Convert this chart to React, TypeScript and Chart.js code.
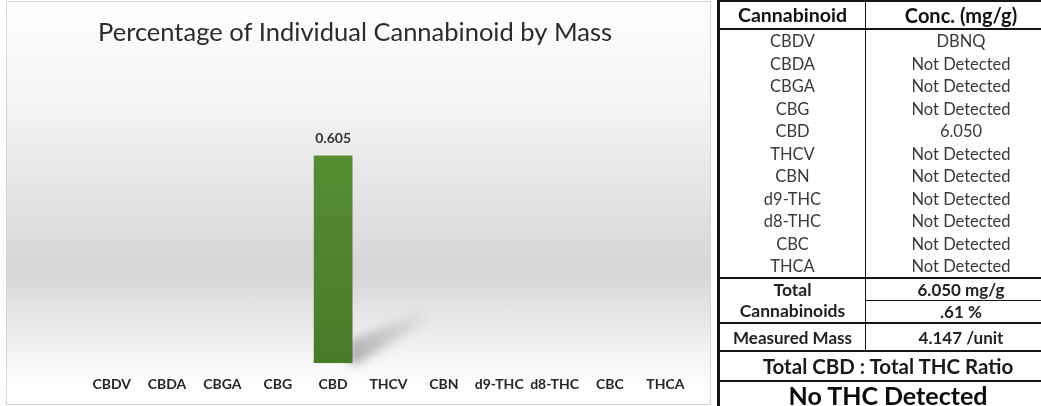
import { useEffect, useRef } from "react";
import { Chart, registerables, type ChartConfiguration, type Plugin } from "chart.js";

Chart.register(...registerables);

const FONT = "Lato, 'Open Sans', sans-serif";

const categories = ["CBDV", "CBDA", "CBGA", "CBG", "CBD", "THCV", "CBN", "d9-THC", "d8-THC", "CBC", "THCA"];
const percentByMass = [0, 0, 0, 0, 0.605, 0, 0, 0, 0, 0, 0];
const concentrations = [
  "DBNQ",
  "Not Detected",
  "Not Detected",
  "Not Detected",
  "6.050",
  "Not Detected",
  "Not Detected",
  "Not Detected",
  "Not Detected",
  "Not Detected",
  "Not Detected",
];
const totalMgPerG = "6.050 mg/g";
const totalPercent = ".61 %";
const measuredMass = "4.147 /unit";
const ratioText = "No THC Detected";

// soft diagonal shadow behind each non-zero bar
const barShadow: Plugin<"bar"> = {
  id: "barShadow",
  beforeDatasetsDraw(chart) {
    const ctx = chart.ctx;
    const meta = chart.getDatasetMeta(0);
    meta.data.forEach((el, i) => {
      const v = percentByMass[i];
      if (!v) return;
      const { x, base, width } = el.getProps(["x", "base", "width"], true) as any;
      const r = x + width / 2;
      ctx.save();
      ctx.filter = "blur(5px)";
      const g = ctx.createLinearGradient(r, base, r + 70, base - 48);
      g.addColorStop(0, "rgba(100,100,100,0.5)");
      g.addColorStop(1, "rgba(140,140,140,0.1)");
      ctx.fillStyle = g;
      ctx.beginPath();
      ctx.moveTo(r - 4, base);
      ctx.lineTo(r - 4, base - 22);
      ctx.lineTo(r + 66, base - 50);
      ctx.lineTo(r + 74, base - 42);
      ctx.lineTo(r + 6, base);
      ctx.closePath();
      ctx.fill();
      ctx.restore();
    });
  },
};

const valueLabels: Plugin<"bar"> = {
  id: "valueLabels",
  afterDatasetsDraw(chart) {
    const ctx = chart.ctx;
    const meta = chart.getDatasetMeta(0);
    ctx.save();
    ctx.font = `bold 14px ${FONT}`;
    ctx.fillStyle = "#333333";
    ctx.textAlign = "center";
    ctx.textBaseline = "middle";
    meta.data.forEach((el, i) => {
      const v = percentByMass[i];
      if (!v) return;
      const { x, y } = el.getProps(["x", "y"], true) as any;
      ctx.fillText(v.toFixed(3), x, y - 17);
    });
    ctx.restore();
  },
};

function CannabinoidChart() {
  const canvasRef = useRef<HTMLCanvasElement>(null);

  useEffect(() => {
    if (!canvasRef.current) return;
    const config: ChartConfiguration<"bar"> = {
      type: "bar",
      data: {
        labels: categories,
        datasets: [
          {
            data: percentByMass,
            backgroundColor: (c) => {
              const area = c.chart.chartArea;
              if (!area) return "#548a30";
              const g = c.chart.ctx.createLinearGradient(0, area.top, 0, area.bottom);
              g.addColorStop(0, "#5c9636");
              g.addColorStop(1, "#497a2a");
              return g;
            },
            borderWidth: 0,
            categoryPercentage: 1,
            barPercentage: 0.7,
          },
        ],
      },
      options: {
        responsive: true,
        maintainAspectRatio: false,
        animation: false,
        layout: { padding: { top: 5, left: 10, right: 17, bottom: -2 } },
        scales: {
          x: {
            grid: { display: false, drawTicks: false },
            border: { display: false },
            ticks: {
              padding: 13,
              color: "#262626",
              font: { family: FONT, size: 14, weight: "bold" },
              maxRotation: 0,
              autoSkip: false,
            },
          },
          y: {
            min: 0,
            max: 0.89,
            grid: { display: false },
            border: { display: false },
            ticks: { display: false },
            afterFit: (s) => {
              s.width = 67;
            },
          },
        },
        plugins: {
          legend: { display: false },
          tooltip: { enabled: false },
          title: {
            display: true,
            text: "Percentage of Individual Cannabinoid by Mass",
            color: "#2b2b2b",
            font: { family: FONT, size: 25.5, weight: "normal" },
            padding: { top: 10, bottom: 10 },
          },
        },
      },
      plugins: [barShadow, valueLabels],
    };
    const chart = new Chart(canvasRef.current, config);
    return () => chart.destroy();
  }, []);

  return (
    <div
      style={{
        position: "absolute",
        left: 6,
        top: 1,
        width: 705,
        height: 404,
        boxSizing: "border-box",
        border: "1px solid #d6d6d6",
        background:
          "linear-gradient(to bottom, #ffffff 0%, #f4f4f4 25%, #d6d6d6 67%, #f0f0f0 85%, #ffffff 96%)",
      }}
    >
      <canvas ref={canvasRef} role="img" aria-label="Percentage of Individual Cannabinoid by Mass" />
    </div>
  );
}

const LINE = "#151515";

function Cell(props: {
  left: number;
  top: number;
  width: number;
  height: number;
  size: number;
  bold?: boolean;
  color?: string;
  children: React.ReactNode;
}) {
  return (
    <div
      style={{
        position: "absolute",
        left: props.left,
        top: props.top,
        width: props.width,
        height: props.height,
        display: "flex",
        alignItems: "center",
        justifyContent: "center",
        fontSize: props.size,
        fontWeight: props.bold ? 700 : 400,
        color: props.color ?? "#111",
        whiteSpace: "nowrap",
        lineHeight: 1,
      }}
    >
      {props.children}
    </div>
  );
}

function HLine({ left, top, width, h }: { left: number; top: number; width: number; h: number }) {
  return <div style={{ position: "absolute", left, top, width, height: h, background: LINE }} />;
}

function ResultsTable() {
  const L = 720;
  const MID = 865;
  const R = 1056;
  const rowTop = 30;
  const rowH = 22.5;
  return (
    <div style={{ position: "absolute", left: 0, top: 0, width: 1100, height: 406, fontFamily: FONT }}>
      {/* frame */}
      <div style={{ position: "absolute", left: 717, top: 0, width: 3, height: 406, background: LINE }} />
      <HLine left={717} top={0} width={R - 717} h={2} />
      <div style={{ position: "absolute", left: MID, top: 0, width: 1, height: 351, background: LINE }} />
      <HLine left={L} top={28} width={R - L} h={2} />
      <HLine left={L} top={277} width={R - L} h={2} />
      <HLine left={MID} top={300} width={R - MID} h={1} />
      <HLine left={L} top={322} width={R - L} h={2} />
      <HLine left={L} top={350} width={R - L} h={2} />
      <HLine left={L} top={380} width={R - L} h={2} />

      <Cell left={L} top={1} width={MID - L} height={27} size={19.5} bold>
        Cannabinoid
      </Cell>
      <Cell left={MID + 1} top={1} width={R - MID - 1} height={27} size={20} bold>
        Conc. (mg/g)
      </Cell>

      {categories.map((name, i) => (
        <Cell key={name} left={L} top={rowTop + i * rowH} width={MID - L} height={rowH} size={16.5} color="#3a3a3a">
          {name}
        </Cell>
      ))}
      {concentrations.map((c, i) => (
        <Cell key={i} left={MID + 1} top={rowTop + i * rowH} width={R - MID - 1} height={rowH} size={16.5} color="#3a3a3a">
          {c}
        </Cell>
      ))}

      <Cell left={L} top={279} width={MID - L} height={22} size={17.5} bold color="#222">
        Total
      </Cell>
      <Cell left={L} top={300} width={MID - L} height={22} size={17.5} bold color="#222">
        Cannabinoids
      </Cell>
      <Cell left={MID + 1} top={279} width={R - MID - 1} height={21} size={17} bold color="#222">
        {totalMgPerG}
      </Cell>
      <Cell left={MID + 1} top={301} width={R - MID - 1} height={21} size={17} bold color="#222">
        {totalPercent}
      </Cell>
      <Cell left={L} top={324} width={MID - L} height={26} size={17} bold color="#222">
        Measured Mass
      </Cell>
      <Cell left={MID + 1} top={324} width={R - MID - 1} height={26} size={17} bold color="#222">
        {measuredMass}
      </Cell>
      <Cell left={L} top={352} width={R - L} height={28} size={20.5} bold color="#1a1a1a">
        Total CBD : Total THC Ratio
      </Cell>
      <Cell left={L} top={382} width={R - L} height={26} size={25} bold color="#0a0a0a">
        {ratioText}
      </Cell>
    </div>
  );
}

export default function App() {
  return (
    <div
      style={{
        position: "fixed",
        left: 0,
        top: 0,
        width: 1041,
        height: 406,
        overflow: "hidden",
        background: "#ffffff",
        fontFamily: FONT,
      }}
    >
      <CannabinoidChart />
      <ResultsTable />
    </div>
  );
}
